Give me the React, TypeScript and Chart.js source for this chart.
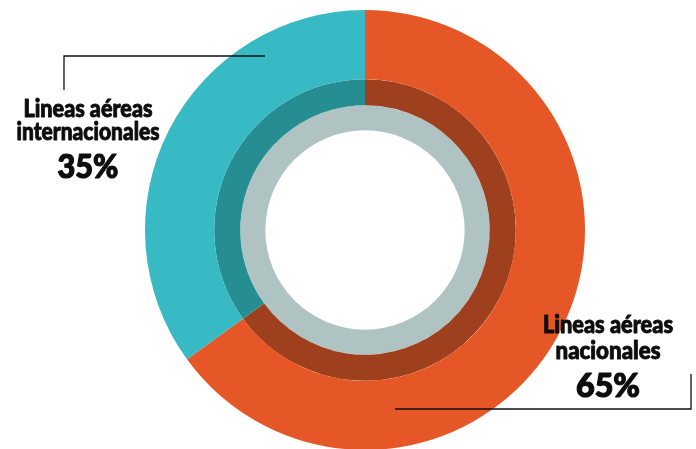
import React, { useEffect, useRef } from "react";
import { Chart, registerables } from "chart.js";

Chart.register(...registerables);

const categories = ["Lineas aéreas nacionales", "Lineas aéreas internacionales"];
const shares = [65, 35];
const labelLines = [["Lineas aéreas", "nacionales"], ["Lineas aéreas", "internacionales"]];
const percentLabels = ["65%", "35%"];
const outerColors = ["#E55726", "#37BAC3"];
const innerColors = ["#9E401E", "#268E93"];
const baseRing = [100];

const FONT = "Lato, 'Open Sans', sans-serif";

function fitText(ctx: any, text: string, cx: number, y: number, width: number, stroke: number) {
  const w = ctx.measureText(text).width;
  const s = width / w;
  ctx.save();
  ctx.translate(cx, y);
  ctx.scale(s, 1);
  ctx.lineWidth = stroke;
  ctx.lineJoin = "round";
  ctx.strokeText(text, 0, 0);
  ctx.fillText(text, 0, 0);
  ctx.restore();
}

const labelPlugin = {
  id: "calloutLabels",
  afterDraw(chart: any) {
    const ctx = chart.ctx;
    ctx.save();
    ctx.fillStyle = "#0d0d0d";
    ctx.strokeStyle = "#0d0d0d";
    ctx.textAlign = "center";
    ctx.textBaseline = "alphabetic";
    const specs = [
      { x: 608, ys: [333, 359], ws: [130, 105], py: 397, pw: 64, i: 0 },
      { x: 88, ys: [117, 140], ws: [129, 143], py: 178, pw: 61, i: 1 },
    ];
    specs.forEach((s) => {
      ctx.font = `900 24px ${FONT}`;
      labelLines[s.i].forEach((t, k) => fitText(ctx, t, s.x, s.ys[k], s.ws[k], 0.9));
      ctx.font = `900 32px ${FONT}`;
      fitText(ctx, percentLabels[s.i], s.x, s.py, s.pw, 1.2);
    });
    ctx.strokeStyle = "#111";
    ctx.lineWidth = 1.3;
    ctx.beginPath();
    ctx.moveTo(64, 90);
    ctx.lineTo(64, 56);
    ctx.lineTo(265, 56);
    ctx.moveTo(395, 409);
    ctx.lineTo(691, 409);
    ctx.lineTo(691, 374);
    ctx.stroke();
    ctx.restore();
  },
};

export default function App() {
  const ref = useRef<HTMLCanvasElement>(null);
  useEffect(() => {
    if (!ref.current) return;
    const chart = new Chart(ref.current, {
      type: "doughnut",
      data: {
        labels: categories,
        datasets: [
          { data: shares, backgroundColor: outerColors, borderWidth: 0, weight: 69 } as any,
          { data: shares, backgroundColor: innerColors, borderWidth: 0, weight: 26 } as any,
          { data: baseRing, backgroundColor: ["#AFC3C2"], borderWidth: 0, weight: 25 } as any,
        ],
      },
      options: {
        responsive: false,
        animation: false,
        cutout: "45.3%",
        layout: { padding: { left: 145, right: 111, top: 10, bottom: 10 } },
        plugins: { legend: { display: false }, tooltip: { enabled: false } },
      },
      plugins: [labelPlugin],
    });
    return () => chart.destroy();
  }, []);
  return (
    <div style={{ position: "fixed", left: 0, top: 0, width: 696, height: 449, overflow: "hidden", background: "#fff" }}>
      <canvas ref={ref} width={696} height={460} style={{ display: "block" }} />
    </div>
  );
}
